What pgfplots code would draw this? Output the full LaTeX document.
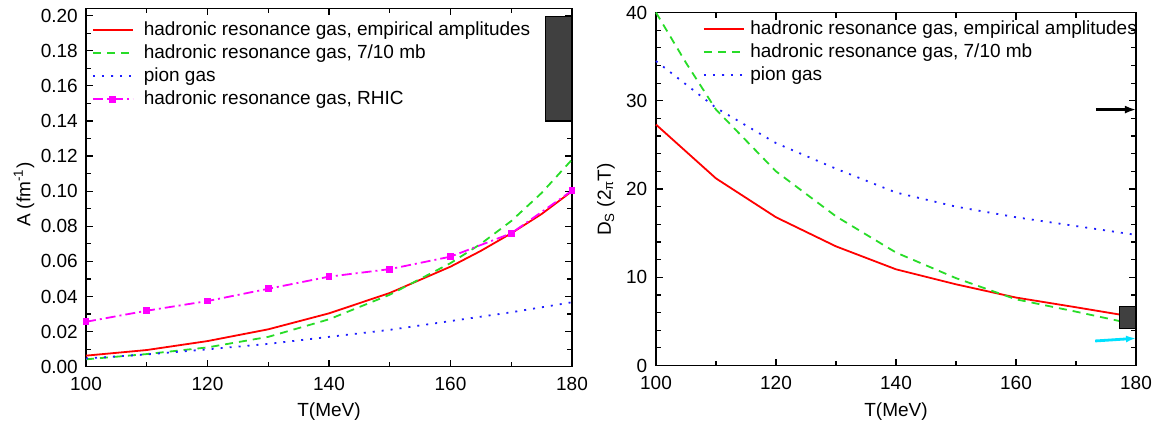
\documentclass[border=0pt]{standalone}
\usepackage{pgfplots}
\pgfplotsset{compat=1.18}
\usetikzlibrary{arrows.meta}
\usepackage{fontspec}
\setmainfont{Liberation Sans}
\definecolor{cgreen}{RGB}{40,220,40}
\definecolor{cblue}{RGB}{30,30,255}
\definecolor{cmag}{RGB}{255,0,255}
\definecolor{cbox}{RGB}{64,64,64}
\definecolor{ccyan}{RGB}{0,225,255}
\newcommand{\fs}{\fontsize{9.5}{11}\selectfont}
\pgfplotsset{
  common/.style={
    scale only axis, clip=false,
    xmin=100, xmax=180, xtick={100,120,140,160,180}, minor x tick num=1,
    ymin=0,
    tick align=inside,
    major tick length=3.5pt, minor tick length=2.5pt,
    every tick/.style={black, line width=0.6pt},
    axis line style={line width=0.7pt},
    /pgf/number format/assume math mode=true,
    tick label style={font=\fs},
    xticklabel style={yshift=-1.9pt},
    label style={font=\fs},
    legend cell align=left,
    legend image code/.code={\draw[mark repeat=2,mark phase=2,##1] plot coordinates {(0pt,0pt) (10pt,0pt) (20pt,0pt)};},
  },
  lgd/.style={legend style={draw=none, fill=none, inner sep=0pt, outer sep=0pt,
    font=\fs, row sep=2.3pt, nodes={inner sep=0pt, text height=7.2pt, text depth=2pt}}},
  redl/.style={red, line width=0.9pt, mark=none},
  greenl/.style={cgreen, line width=0.9pt, dash pattern=on 4pt off 3pt, mark=none},
  bluel/.style={cblue, line width=0.9pt, dash pattern=on 1pt off 3.5pt, mark=none},
  magl/.style={cmag, line width=0.9pt, dash pattern=on 5pt off 2pt on 1pt off 2pt, mark=square*, mark size=1.25pt, mark options={solid, fill=cmag, draw=cmag}},
}
\begin{document}
\begin{tikzpicture}
\useasboundingbox (0,0) rectangle (579pt,215pt);
% ---------- left panel ----------
\begin{axis}[common, lgd,
  at={(43pt,31.65pt)}, anchor=south west, width=243pt, height=179.2pt,
  ymax=0.2042, ytick={0,0.02,0.04,0.06,0.08,0.10,0.12,0.14,0.16,0.18,0.20}, minor y tick num=1,
  yticklabel style={/pgf/number format/.cd, fixed, fixed zerofill, precision=2, /tikz/.cd, xshift=-0.6pt},
  xlabel={T(MeV)}, ylabel={A (fm\textsuperscript{-1})},
  xlabel style={at={(rel axis cs:0.5,-0.1264)}, anchor=center},
  ylabel style={at={(rel axis cs:-0.1276,0.48)}, anchor=center},
  legend style={at={(rel axis cs:0.0123,0.9646)}, anchor=north west, column sep=5pt},
]
\addplot[redl] coordinates {(100,0.0063)(110,0.0095)(120,0.0146)(130,0.0213)(140,0.0304)(150,0.042)(160,0.057)(165,0.066)(170,0.076)(175,0.087)(180,0.100)};
\addlegendentry{hadronic resonance gas, empirical amplitudes}
\addplot[greenl] coordinates {(100,0.0042)(110,0.0072)(120,0.011)(130,0.017)(140,0.027)(150,0.041)(160,0.059)(165,0.070)(170,0.083)(175,0.099)(180,0.118)};
\addlegendentry{hadronic resonance gas, 7/10 mb}
\addplot[bluel] coordinates {(100,0.0047)(110,0.007)(120,0.0099)(130,0.013)(140,0.017)(150,0.021)(160,0.026)(170,0.031)(180,0.0367)};
\addlegendentry{pion gas}
\addplot[magl] coordinates {(100,0.0256)(110,0.0319)(120,0.0374)(130,0.0444)(140,0.0513)(150,0.0556)(160,0.0627)(170,0.076)(180,0.1003)};
\addlegendentry{hadronic resonance gas, RHIC}
\addplot[fill=cbox, draw=black, line width=0.6pt, forget plot] coordinates {(175.7,0.14)(180,0.14)(180,0.1995)(175.7,0.1995)} -- cycle;
\end{axis}
% ---------- right panel ----------
\begin{axis}[common, lgd,
  at={(328pt,32.25pt)}, anchor=south west, width=240pt, height=176.5pt,
  ymax=40, ytick={0,10,20,30,40}, minor y tick num=4,
  yticklabel style={xshift=-0.9pt},
  xlabel={T(MeV)}, ylabel={D\textsubscript{S} (2\raisebox{-0.2ex}{\fontsize{6.5}{7}\selectfont π}T)},
  xlabel style={at={(rel axis cs:0.5,-0.1317)}, anchor=center},
  ylabel style={at={(rel axis cs:-0.104,0.47)}, anchor=center},
  legend style={at={(rel axis cs:0.098,0.9795)}, anchor=north west, column sep=2.75pt},
]
\addplot[redl] coordinates {(100,27.3)(110,21.2)(120,16.8)(130,13.5)(140,10.9)(150,9.2)(160,7.7)(170,6.6)(177.5,5.75)};
\addlegendentry{hadronic resonance gas, empirical amplitudes}
\addplot[greenl] coordinates {(100,40)(105,34.3)(110,29.0)(120,22.0)(130,16.9)(140,12.8)(150,9.9)(160,7.5)(170,6.1)(177.5,5.0)};
\addlegendentry{hadronic resonance gas, 7/10 mb}
\addplot[bluel] coordinates {(100,34.5)(110,29.2)(120,25.2)(130,22.3)(140,19.6)(150,18.0)(160,16.8)(170,15.8)(180,14.8)};
\addlegendentry{pion gas}
\addplot[fill=cbox, draw=black, line width=0.6pt, forget plot] coordinates {(177.2,4.2)(180,4.2)(180,6.7)(177.2,6.7)} -- cycle;
\addplot[black, line width=1.1pt, -{Latex[length=5.5pt,width=4pt]}, forget plot] coordinates {(173.3,29.0)(180,29.0)};
\addplot[ccyan, line width=1.4pt, -{Latex[length=5pt,width=3.5pt]}, forget plot] coordinates {(173.2,2.78)(180,3.08)};
\end{axis}
\end{tikzpicture}
\end{document}
